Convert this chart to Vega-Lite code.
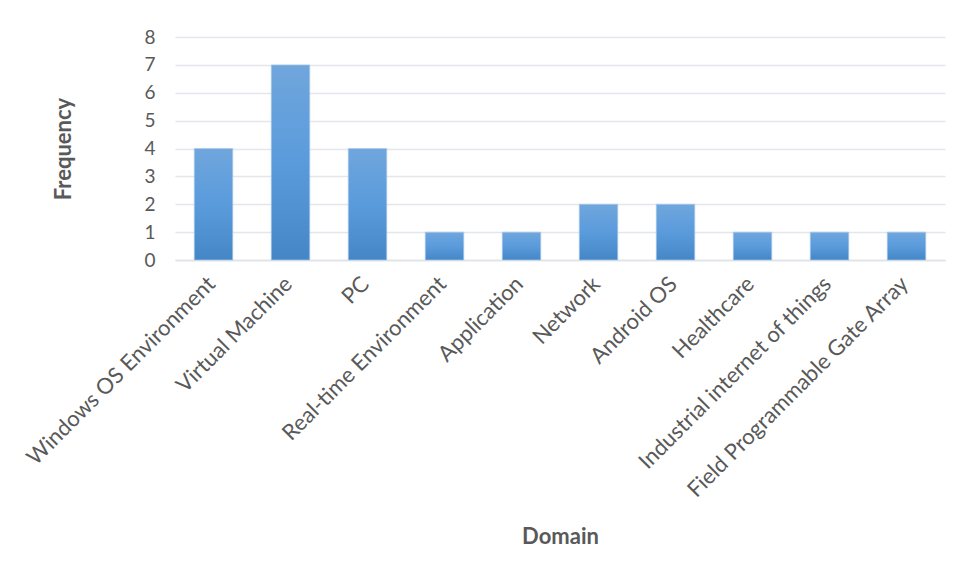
{
  "$schema": "https://vega.github.io/schema/vega-lite/v6.json",
  "autosize": "none",
  "width": 770,
  "height": 223,
  "padding": {"left": 175, "top": 37, "right": 15, "bottom": 319},
  "background": "white",
  "config": {
    "view": {"stroke": null},
    "font": "Lato",
    "axis": {"labelFont": "Lato", "titleFont": "Lato", "labelColor": "#595959", "titleColor": "#595959"}
  },
  "data": {
    "values": [
      {"Domain": "Windows OS Environment", "Frequency": 4},
      {"Domain": "Virtual Machine", "Frequency": 7},
      {"Domain": "PC", "Frequency": 4},
      {"Domain": "Real-time Environment", "Frequency": 1},
      {"Domain": "Application", "Frequency": 1},
      {"Domain": "Network", "Frequency": 2},
      {"Domain": "Android OS", "Frequency": 2},
      {"Domain": "Healthcare", "Frequency": 1},
      {"Domain": "Industrial internet of things", "Frequency": 1},
      {"Domain": "Field Programmable Gate Array", "Frequency": 1}
    ]
  },
  "mark": {
    "type": "bar",
    "stroke": "#a9c9ec",
    "strokeWidth": 1,
    "strokeOpacity": 0.7,
    "color": {
      "gradient": "linear",
      "x1": 0, "y1": 0, "x2": 0, "y2": 1,
      "stops": [
        {"offset": 0, "color": "#70a6dc"},
        {"offset": 0.5, "color": "#5a9bdc"},
        {"offset": 1, "color": "#4587c6"}
      ]
    }
  },
  "encoding": {
    "x": {
      "field": "Domain",
      "type": "nominal",
      "sort": null,
      "scale": {"paddingInner": 0.5, "paddingOuter": 0.25},
      "axis": {
        "title": "Domain",
        "titleFontSize": 22,
        "titleFontWeight": "bold",
        "titlePadding": 66,
        "labelAngle": -45,
        "labelFontSize": 22,
        "labelPadding": 13,
        "labelOffset": -9,
        "labelLimit": 500,
        "ticks": false,
        "domainColor": "#dfe3e8",
        "domainWidth": 1.5
      }
    },
    "y": {
      "field": "Frequency",
      "type": "quantitative",
      "scale": {"domain": [0, 8]},
      "axis": {
        "title": "Frequency",
        "titleFontSize": 22,
        "titleFontWeight": "bold",
        "titlePadding": 68,
        "values": [0, 1, 2, 3, 4, 5, 6, 7, 8],
        "labelFontSize": 19,
        "labelPadding": 20,
        "ticks": false,
        "domain": false,
        "gridColor": "#e3e6ea",
        "gridWidth": 1.5
      }
    }
  }
}
